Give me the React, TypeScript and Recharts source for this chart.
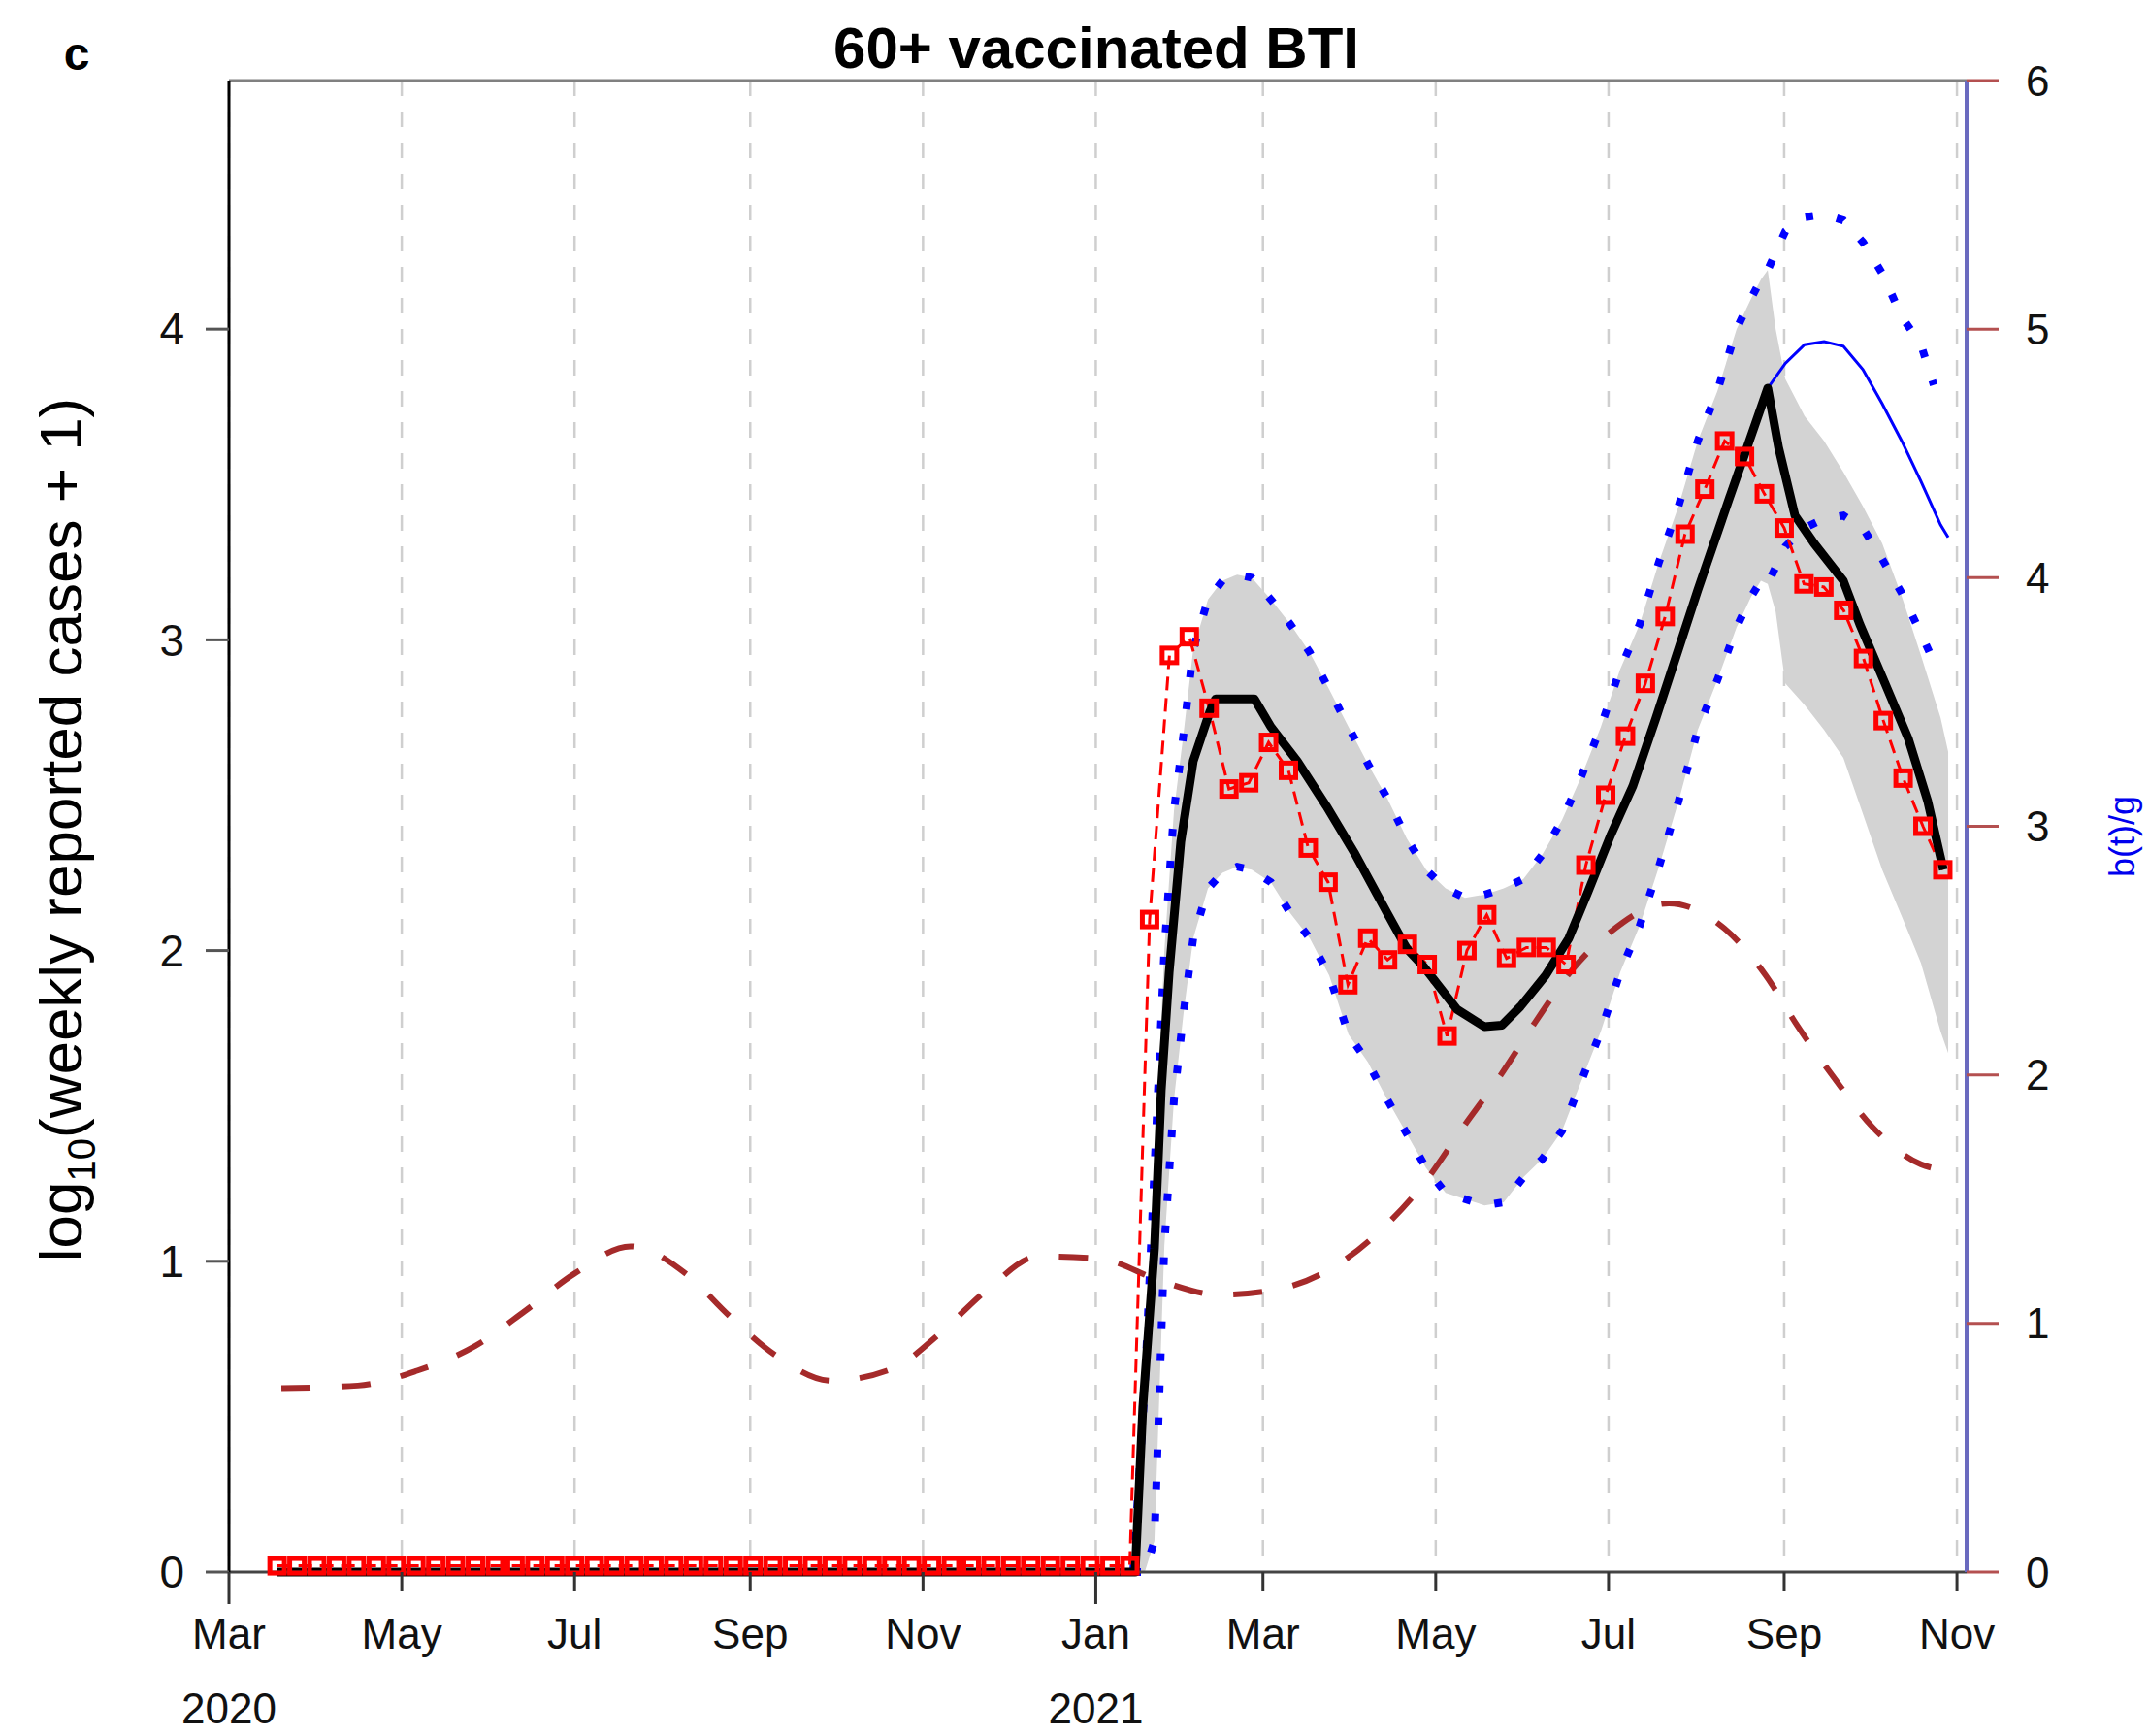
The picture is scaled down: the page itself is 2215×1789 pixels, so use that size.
import { ComposedChart, Line, Area, XAxis, YAxis, CartesianGrid, ReferenceLine } from 'recharts';

const W = 2215;
const H = 1789;
const FONT = '"Liberation Sans", Arial, Helvetica, sans-serif';

// x values are days since 1 March 2020
const X_MAX = 613.4;
const monthTickDays = [0, 61, 122, 184, 245, 306, 365, 426, 487, 549, 610];
const monthTickLabels = ['Mar', 'May', 'Jul', 'Sep', 'Nov', 'Jan', 'Mar', 'May', 'Jul', 'Sep', 'Nov'];
const yearTickDays = [0, 306];
const yearTickLabels = ['2020', '2021'];
const leftTicks = [0, 1, 2, 3, 4];
const rightTicks = [0, 1, 2, 3, 4, 5, 6];

// weekly reported breakthrough infections, log10(n + 1); first week is day 17
const OBS_FIRST_DAY = 17;
const observedLog = [
  0.02, 0.02, 0.02, 0.02, 0.02, 0.02, 0.02, 0.02, 0.02, 0.02, 0.02,
  0.02, 0.02, 0.02, 0.02, 0.02, 0.02, 0.02, 0.02, 0.02, 0.02, 0.02,
  0.02, 0.02, 0.02, 0.02, 0.02, 0.02, 0.02, 0.02, 0.02, 0.02, 0.02,
  0.02, 0.02, 0.02, 0.02, 0.02, 0.02, 0.02, 0.02, 0.02, 0.02, 0.02,
  2.10, 2.95, 3.01, 2.78, 2.52, 2.54, 2.67, 2.58, 2.33, 2.22,
  1.89, 2.04, 1.97, 2.02, 1.955, 1.725, 2.00, 2.115, 1.975, 2.01,
  2.01, 1.955, 2.275, 2.50, 2.69, 2.86, 3.075, 3.34, 3.485, 3.64,
  3.59, 3.47, 3.36, 3.18, 3.17, 3.095, 2.94, 2.74, 2.555, 2.40, 2.26,
];

// fitted model (median)
const fitDays = [
  17, 319.9, 322.6, 326.7, 329.1, 331.9, 336.0, 340.4, 346.3, 348.3, 362.0,
  367.8, 377.1, 387.4, 397.6, 408.9, 415.8, 421.6, 433.6, 443.2, 449.4,
  455.9, 464.8, 473.0, 479.8, 487.7, 495.6, 503.8, 511.7, 518.5, 529.8,
  536.7, 543.2, 547.0, 552.8, 559.6, 569.9, 575.7, 584.6, 592.9, 599.7, 605.2,
];
const fitLog = [
  0, 0, 0.53, 1.04, 1.55, 1.93, 2.35, 2.61, 2.77, 2.81, 2.81,
  2.72, 2.61, 2.465, 2.31, 2.12, 2.006, 1.95, 1.81, 1.755, 1.76,
  1.82, 1.92, 2.04, 2.19, 2.37, 2.53, 2.75, 2.97, 3.16, 3.46,
  3.64, 3.81, 3.62, 3.40, 3.31, 3.19, 3.05, 2.86, 2.68, 2.48, 2.26,
];

// 95% band of the fit
const bandDays = [
  319.2, 323.3, 326.7, 330.2, 333.6, 337.0, 340.4, 345.6, 350.7, 355.9,
  361.0, 367.8, 374.7, 381.5, 388.4, 395.2, 402.1, 408.9, 415.8, 422.6,
  429.5, 436.3, 443.2, 450.0, 456.9, 463.7, 470.6, 477.4, 484.3, 491.1,
  498.0, 504.8, 511.7, 518.5, 525.4, 532.2, 537.4, 540.8, 543.2, 546.0,
  549.4, 556.2, 563.1, 569.9, 576.8, 583.6, 590.5, 597.3, 604.2, 606.9,
];
const bandHigh = [
  0, 0.6, 1.3, 2.0, 2.45, 2.70, 2.97, 3.13, 3.19, 3.21,
  3.20, 3.13, 3.05, 2.96, 2.84, 2.72, 2.60, 2.49, 2.36, 2.26,
  2.20, 2.17, 2.18, 2.20, 2.23, 2.31, 2.42, 2.56, 2.72, 2.905,
  3.05, 3.25, 3.43, 3.64, 3.80, 4.00, 4.10, 4.16, 4.19, 4.00,
  3.84, 3.72, 3.64, 3.54, 3.43, 3.31, 3.14, 2.95, 2.75, 2.64,
];
const bandLow = [
  0, 0, 0.1, 1.05, 1.52, 1.80, 2.04, 2.20, 2.25, 2.27,
  2.26, 2.22, 2.12, 2.04, 1.92, 1.73, 1.64, 1.52, 1.41, 1.30,
  1.22, 1.20, 1.18, 1.19, 1.27, 1.33, 1.42, 1.58, 1.74, 1.93,
  2.08, 2.27, 2.48, 2.71, 2.87, 3.04, 3.14, 3.19, 3.18, 3.09,
  2.86, 2.79, 2.71, 2.62, 2.44, 2.26, 2.11, 1.96, 1.74, 1.67,
];

// projection follows the band edges up to day 543, then runs on its own
const PROJ_SPLIT = 39;
const projTailDays = [549.4, 556.2, 563.1, 569.9, 576.8, 583.6, 590.5, 597.3, 601.8];
const projHighTail = [4.315, 4.36, 4.37, 4.35, 4.28, 4.18, 4.04, 3.95, 3.82];
const projLowTail = [3.30, 3.36, 3.39, 3.40, 3.36, 3.26, 3.15, 3.02, 2.93];
const projMidDays = [543.2, 549.4, 556.2, 563.1, 569.9, 576.8, 583.6, 590.5, 597.3, 604.2, 606.9];
const projMid = [3.81, 3.89, 3.95, 3.96, 3.945, 3.87, 3.76, 3.64, 3.51, 3.37, 3.33];

// seasonal transmission b(t)/g, right axis
const seasonDays = [
  18.5, 45.5, 66.4, 87, 104.5, 121.9, 141.8, 161.3, 176.7, 193.2,
  212.7, 234.6, 251, 267.1, 286, 307.6, 329.1, 349.7, 371.3, 391.8,
  408.9, 422.6, 435.7, 449, 461, 474, 487.7, 508.3, 527.8, 542.5,
  553.8, 566.5, 580.2, 597.3, 601.4,
];
const seasonRatio = [
  0.74, 0.75, 0.81, 0.91, 1.05, 1.20, 1.31, 1.20, 1.03, 0.87,
  0.77, 0.82, 0.96, 1.13, 1.27, 1.26, 1.17, 1.115, 1.14, 1.24,
  1.40, 1.575, 1.79, 2.00, 2.21, 2.42, 2.575, 2.69, 2.59, 2.40,
  2.195, 1.99, 1.79, 1.64, 1.625,
];

const observedData = observedLog.map((v, i) => ({ day: OBS_FIRST_DAY + 7 * i, v }));
const fitData = fitDays.map((day, i) => ({ day, v: fitLog[i] }));
const bandData = bandDays.map((day, i) => ({ day, range: [bandLow[i], bandHigh[i]] }));
const projDays = [...bandDays.slice(0, PROJ_SPLIT), ...projTailDays];
const projHighData = projDays.map((day, i) => ({
  day,
  v: i < PROJ_SPLIT ? bandHigh[i] : projHighTail[i - PROJ_SPLIT],
}));
const projLowData = projDays.map((day, i) => ({
  day,
  v: i < PROJ_SPLIT ? bandLow[i] : projLowTail[i - PROJ_SPLIT],
}));
const projMidData = projMidDays.map((day, i) => ({ day, v: projMid[i] }));
const seasonData = seasonDays.map((day, i) => ({ day, v: seasonRatio[i] }));

function MonthTick(props: any) {
  const { x, y, payload } = props;
  const i = monthTickDays.indexOf(payload.value);
  const yi = yearTickDays.indexOf(payload.value);
  return (
    <g>
      <line x1={x} x2={x} y1={y} y2={y + (yi >= 0 ? 33 : 20)} stroke="#333" strokeWidth={3} />
      <text x={x} y={y + 79} textAnchor="middle" fontSize={44} fontFamily={FONT} fill="#111">
        {monthTickLabels[i]}
      </text>
      {yi >= 0 && (
        <text x={x} y={y + 156} textAnchor="middle" fontSize={44} fontFamily={FONT} fill="#111">
          {yearTickLabels[yi]}
        </text>
      )}
    </g>
  );
}

function RedSquare(props: any) {
  const { cx, cy, index } = props;
  if (cx == null || cy == null) return <g key={`sq-${index}`} />;
  return (
    <rect
      key={`sq-${index}`}
      x={cx - 7.5}
      y={cy - 7.5}
      width={15}
      height={15}
      fill="none"
      stroke="#ff0000"
      strokeWidth={5}
    />
  );
}

export default function App() {
  return (
    <div style={{ position: 'absolute', left: 0, top: 0, width: W, height: H, background: '#fff' }}>
      <ComposedChart width={W} height={H} margin={{ top: 83, right: 0, bottom: 0, left: 0 }}>
        <CartesianGrid horizontal={false} stroke="#cfcfcf" strokeWidth={2.5} strokeDasharray="16 16" />
        <XAxis
          type="number"
          dataKey="day"
          domain={[0, X_MAX]}
          allowDataOverflow
          ticks={monthTickDays}
          interval={0}
          height={169}
          tickSize={0}
          tickMargin={0}
          tickLine={false}
          axisLine={{ stroke: '#444', strokeWidth: 3 }}
          tick={(p: any) => <MonthTick {...p} />}
        />
        <YAxis
          yAxisId="left"
          domain={[0, 4.8]}
          ticks={leftTicks}
          width={236}
          tickSize={24}
          tickMargin={22}
          axisLine={{ stroke: '#000', strokeWidth: 3 }}
          tickLine={{ stroke: '#555', strokeWidth: 3 }}
          tick={{ fontSize: 46, fill: '#111', fontFamily: FONT }}
        />
        <YAxis
          yAxisId="right"
          orientation="right"
          domain={[0, 6]}
          ticks={rightTicks}
          width={188}
          tickSize={33}
          tickMargin={28}
          axisLine={{ stroke: '#6a6abf', strokeWidth: 4 }}
          tickLine={{ stroke: '#b45050', strokeWidth: 3 }}
          tick={{ fontSize: 44, fill: '#111', fontFamily: FONT }}
        />
        <ReferenceLine yAxisId="left" y={4.8} stroke="#808080" strokeWidth={3} />
        <Area
          yAxisId="left"
          data={bandData}
          dataKey="range"
          type="linear"
          stroke="none"
          fill="#d3d3d3"
          fillOpacity={1}
          isAnimationActive={false}
        />
        <Line
          yAxisId="right"
          data={seasonData}
          dataKey="v"
          type="monotone"
          stroke="#a52a2a"
          strokeWidth={6}
          strokeDasharray="30 32"
          dot={false}
          isAnimationActive={false}
        />
        <Line
          yAxisId="left"
          data={projHighData}
          dataKey="v"
          type="linear"
          stroke="#0000ff"
          strokeWidth={8}
          strokeDasharray="8 25"
          dot={false}
          isAnimationActive={false}
        />
        <Line
          yAxisId="left"
          data={projLowData}
          dataKey="v"
          type="linear"
          stroke="#0000ff"
          strokeWidth={8}
          strokeDasharray="8 25"
          dot={false}
          isAnimationActive={false}
        />
        <Line
          yAxisId="left"
          data={projMidData}
          dataKey="v"
          type="linear"
          stroke="#0000ff"
          strokeWidth={3}
          dot={false}
          isAnimationActive={false}
        />
        <Line
          yAxisId="left"
          data={observedData}
          dataKey="v"
          type="linear"
          stroke="#ff0000"
          strokeWidth={3}
          strokeDasharray="14 8"
          dot={(p: any) => <RedSquare {...p} />}
          isAnimationActive={false}
        />
        <Line
          yAxisId="left"
          data={fitData}
          dataKey="v"
          type="linear"
          stroke="#000000"
          strokeWidth={9}
          strokeLinejoin="round"
          dot={false}
          isAnimationActive={false}
        />
      </ComposedChart>
      <svg
        width={W}
        height={H}
        style={{ position: 'absolute', left: 0, top: 0, pointerEvents: 'none' }}
        fontFamily={FONT}
      >
        <text x={79} y={72} textAnchor="middle" fontSize={48} fontWeight="bold" fill="#000">
          c
        </text>
        <text x={1130} y={70} textAnchor="middle" fontSize={60} fontWeight="bold" fill="#000">
          60+ vaccinated BTI
        </text>
        <text transform="translate(84,855) rotate(-90)" textAnchor="middle" fontSize={62} fill="#000">
          log
          <tspan fontSize={40} dy={14}>
            10
          </tspan>
          <tspan dy={-14}>(weekly reported cases + 1)</tspan>
        </text>
        <text transform="translate(2200,862) rotate(-90)" textAnchor="middle" fontSize={36} fill="#0000ee">
          b(t)/g
        </text>
      </svg>
    </div>
  );
}
